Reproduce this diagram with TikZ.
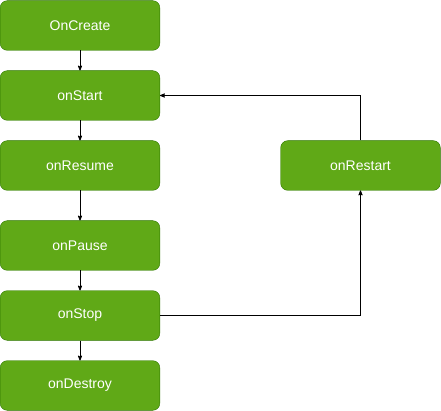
\documentclass[tikz,border=0pt]{standalone}
\usepackage{fontspec}
\setmainfont{Liberation Sans}
\usetikzlibrary{arrows}
\usetikzlibrary{positioning}
\definecolor{stepfill}{HTML}{60A917}
\definecolor{stepline}{HTML}{2D7600}
\tikzset{->, > = stealth', node distance = 20pt,
  callback/.style = {draw = stepline, fill = stepfill, text = white,
    rounded corners = 7pt, minimum width = 159.6pt, minimum height = 49.6pt,
    inner sep = 0pt, font = \fontsize{14}{16}\selectfont}}

\begin{document}
\begin{tikzpicture}[x = 1pt, y = -1pt]
  \useasboundingbox (0, 0) rectangle (441, 411);
  % nodes
  \node [callback] (create) at (80, 25.5) {OnCreate};
  \node [callback, below = of create] (start) {onStart};
  \node [callback, below = of start] (resume) {onResume};
  \node [callback, below = 30pt of resume] (pause) {onPause};
  \node [callback, below = of pause] (stop) {onStop};
  \node [callback, below = of stop] (destroy) {onDestroy};
  \node [callback] (restart) at (360.5, 165.5) {onRestart};
  % edges
  \foreach \a/\b in {create/start, start/resume, resume/pause, pause/stop, stop/destroy} {
    \draw [line width = 0.8pt] (\a) -- (\b);
  }
  \draw [line width = 0.8pt] (stop) -| (restart);
  \draw [line width = 0.8pt] (restart) |- (start);
\end{tikzpicture}
\end{document}
